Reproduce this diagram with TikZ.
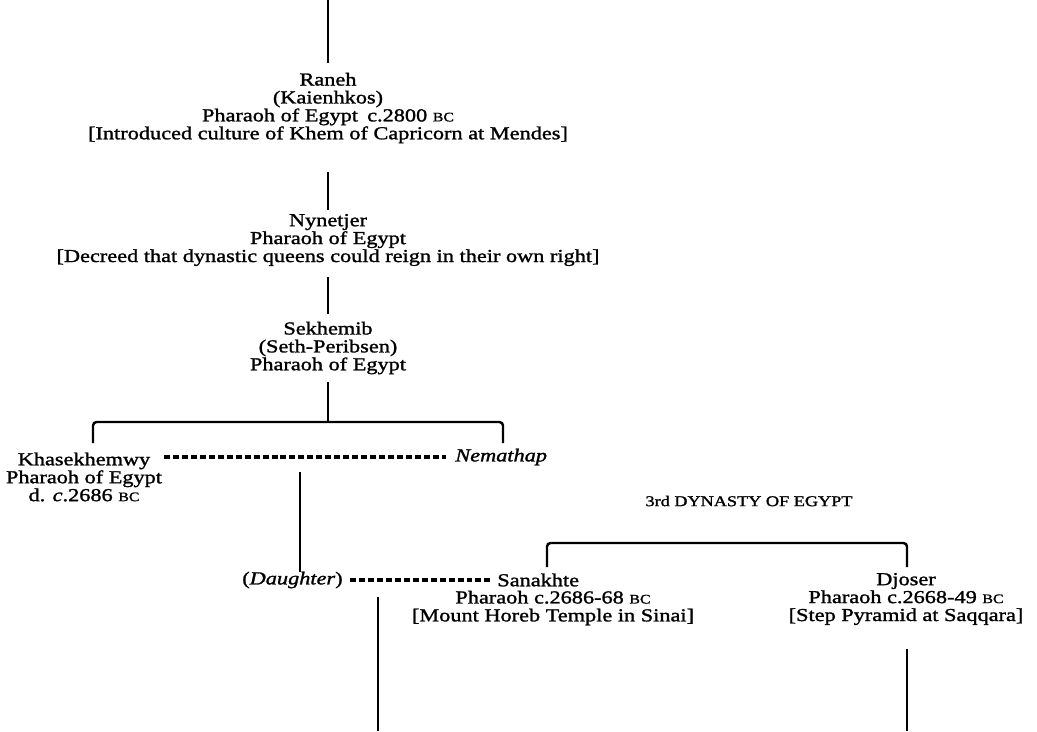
\documentclass[tikz,border=0pt]{standalone}
\usepackage{fontspec}
\setmainfont{Liberation Serif}[FakeStretch=1.22, FakeBold=1.4]
\newcommand\bcsmall{{\fontsize{7.4}{7.4}\selectfont BC}}
\begin{document}
\begin{tikzpicture}[x=0.02cm,y=-0.02cm,
  lbl/.style={inner sep=0pt, align=center, font=\fontsize{10.4}{10.2}\selectfont},
  conn/.style={line width=1.4pt},
  wed/.style={line width=2.3pt, dash pattern=on 3.4pt off 1.7pt}]
\useasboundingbox (0,0) rectangle (1037,731);

% first generations, one under the other
\node[lbl] (raneh) at (328,108) {Raneh\\(Kaienhkos)\\Pharaoh of Egypt\enspace c.2800 \bcsmall\\{[}Introduced culture of Khem of Capricorn at Mendes{]}};
\node[lbl] (nynetjer) at (328,240) {Nynetjer\\Pharaoh of Egypt\\{[}Decreed that dynastic queens could reign in their own right{]}};
\node[lbl] (sekhemib) at (328,348) {Sekhemib\\(Seth-Peribsen)\\Pharaoh of Egypt};

\coordinate (top) at (328,0);
\coordinate (rtop) at (328,63);
\coordinate (rn1) at (328,172);
\coordinate (rn2) at (328,210);
\coordinate (ns1) at (328,277);
\coordinate (ns2) at (328,314);
\draw[conn] (top) -- (rtop);
\draw[conn] (rn1) -- (rn2) (ns1) -- (ns2);

% children of Sekhemib
\coordinate (sk) at (328,382);
\coordinate (fork) at (328,422);
\coordinate (kdrop) at (93,443);
\coordinate (ndrop) at (503,443);
\draw[conn] (sk) -- (fork);
\draw[conn, rounded corners=2pt] (kdrop) |- (fork) -| (ndrop);

\node[lbl] (khas) at (84,477) {Khasekhemwy\\Pharaoh of Egypt\\d. \textit{c}.2686 \bcsmall};
\node[lbl, anchor=west] (nemathap) at (455,457) {\textit{Nemathap}};
\coordinate (kwed) at (164,457);
\draw[wed] (kwed) -- ([xshift=-5pt]nemathap.west);

% their daughter and her husband
\coordinate (kn) at (300,472);
\coordinate (dn) at (300,572);
\node[lbl, anchor=east] (daughter) at (343,580) {(\textit{Daughter})};
\node[lbl, anchor=west] (sanakhte) at (497,580) {Sanakhte};
\draw[conn] (kn) -- (dn);
\draw[wed] ([xshift=4pt]daughter.east) -- ([xshift=-4pt]sanakhte.west);
\node[lbl] (sanainfo) at (553,608) {Pharaoh c.2686-68 \bcsmall\\{[}Mount Horeb Temple in Sinai{]}};

% third dynasty
\node[lbl, font=\fontsize{8.5}{8.5}\selectfont] (dyn) at (749,501) {3rd DYNASTY OF EGYPT};
\node[lbl] (djoser) at (906,599) {Djoser\\Pharaoh c.2668-49 \bcsmall\\{[}Step Pyramid at Saqqara{]}};
\coordinate (sdrop) at (547,567);
\coordinate (ddrop) at (907,567);
\coordinate (dbar) at (727,543);
\draw[conn, rounded corners=2pt] (sdrop) |- (dbar) -| (ddrop);

% lines running on below
\coordinate (stop) at (378,597);
\coordinate (sbot) at (378,731);
\coordinate (dtop) at (907,649);
\coordinate (dbot) at (907,731);
\draw[conn] (stop) -- (sbot);
\draw[conn] (dtop) -- (dbot);
\end{tikzpicture}
\end{document}
